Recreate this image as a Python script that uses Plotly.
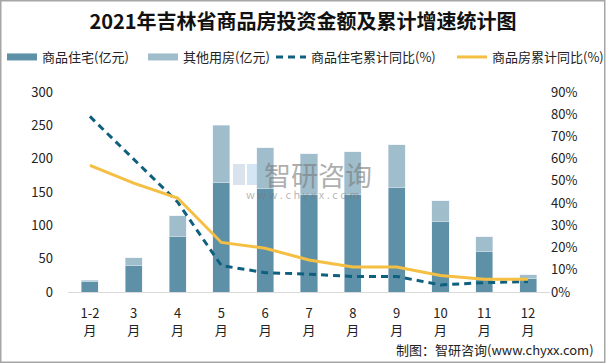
import plotly.graph_objects as go

months = ["1-2<br>月", "3<br>月", "4<br>月", "5<br>月", "6<br>月", "7<br>月",
          "8<br>月", "9<br>月", "10<br>月", "11<br>月", "12<br>月"]
residential = [15.6, 39.2, 82.8, 164.3, 155.0, 147.0, 146.0, 156.8, 105.4, 60.2, 19.6]
other = [2.4, 12.0, 31.6, 85.5, 61.7, 60.7, 64.7, 64.4, 31.6, 22.6, 6.0]
res_growth = [79.0, 59.6, 40.5, 11.9, 8.7, 8.0, 7.0, 7.0, 3.2, 4.2, 4.7]
total_growth = [57.0, 49.0, 42.3, 22.3, 19.7, 14.4, 11.3, 11.2, 7.4, 5.7, 5.7]

C_DARK = "#5e91a8"
C_LIGHT = "#9fbdcb"
C_DASH = "#0f5f7e"
C_YEL = "#f4bf42"
FONT = "Noto Sans CJK SC"

L, R, T, B = 68, 550, 92, 292
W = R - L
H = B - T


def px(x):
    return (x - L) / W


def py(y):
    return (B - y) / H


fig = go.Figure()
fig.add_trace(go.Bar(x=months, y=residential, marker_color=C_DARK, name="商品住宅(亿元)",
                     showlegend=False, width=0.39))
fig.add_trace(go.Bar(x=months, y=other, marker_color=C_LIGHT, name="其他用房(亿元)",
                     showlegend=False, width=0.39))
fig.add_trace(go.Scatter(x=months, y=res_growth, yaxis="y2", mode="lines",
                         line=dict(color=C_DASH, width=3, dash="7px,5px"),
                         name="商品住宅累计同比(%)", showlegend=False))
fig.add_trace(go.Scatter(x=months, y=total_growth, yaxis="y2", mode="lines",
                         line=dict(color=C_YEL, width=3),
                         name="商品房累计同比(%)", showlegend=False))

# legend proxies, each in its own legend for exact placement
legend_items = [("商品住宅(亿元)", C_DARK, "solid", 7, "legend", 2),
                ("其他用房(亿元)", C_LIGHT, "solid", 7, "legend2", 143),
                ("商品住宅累计同比(%)", C_DASH, "7px,5px", 3, "legend3", 271),
                ("商品房累计同比(%)", C_YEL, "solid", 3, "legend4", 452)]
leg_layout = {}
for name, color, dash, w, lg, xpos in legend_items:
    fig.add_trace(go.Scatter(x=[None], y=[None], mode="lines", name=name, legend=lg,
                             line=dict(color=color, width=w, dash=dash)))
    leg_layout[lg] = dict(orientation="h", x=px(xpos), xanchor="left", y=py(57),
                          yanchor="middle", font=dict(size=13, color="#222"),
                          itemwidth=30, bgcolor="rgba(0,0,0,0)")

fig.update_layout(
    width=606, height=363,
    margin=dict(l=L, r=606 - R, t=T, b=363 - B, autoexpand=False),
    barmode="stack",
    bargap=0.61,
    plot_bgcolor="white", paper_bgcolor="white",
    font=dict(family=FONT, size=13, color="#222"),
    title=dict(text="<b>2021年吉林省商品房投资金额及累计增速统计图</b>",
               x=0.5, xanchor="center", y=1 - 22 / 363, yanchor="middle",
               font=dict(size=20, color="#111", family=FONT)),
    xaxis=dict(showgrid=False, showline=True, linecolor="#d9d9d9", linewidth=1,
               ticks="", ticklabelstandoff=9, tickfont=dict(size=13, color="#222")),
    yaxis=dict(range=[0, 300], dtick=50, showgrid=False, zeroline=False, showline=False,
               ticks="", ticklabelstandoff=14, tickfont=dict(size=13, color="#222")),
    yaxis2=dict(range=[0, 90], dtick=10, ticksuffix="%", overlaying="y", side="right",
                showgrid=False, zeroline=False, showline=False,
                tickfont=dict(size=13, color="#222")),
    shapes=[
        dict(type="rect", xref="paper", yref="paper",
             x0=px(0.75), x1=px(604.75), y0=py(362.25), y1=py(0.75),
             line=dict(color="#a6a6a6", width=1.5), fillcolor="rgba(0,0,0,0)", layer="above"),
        # watermark logo
        dict(type="rect", xref="paper", yref="paper",
             x0=px(233), x1=px(245), y0=py(185), y1=py(164),
             line=dict(width=0), fillcolor="rgba(170,190,215,0.45)", layer="above"),
        dict(type="rect", xref="paper", yref="paper",
             x0=px(247), x1=px(258), y0=py(185), y1=py(164),
             line=dict(width=0), fillcolor="rgba(160,200,230,0.45)", layer="above"),
    ],
    annotations=[
        dict(text="智研咨询", xref="paper", yref="paper",
             x=px(318), y=py(174), showarrow=False,
             font=dict(size=27, color="rgba(120,120,120,0.6)", family=FONT)),
        dict(text="w w w . c h y x x . c o m", xref="paper", yref="paper",
             x=px(303), y=py(194), showarrow=False,
             font=dict(size=11, color="rgba(120,120,120,0.55)", family=FONT)),
        dict(text="制图：智研咨询(www.chyxx.com)", xref="paper", yref="paper",
             x=px(596), xanchor="right", y=py(349), yanchor="middle",
             showarrow=False, font=dict(size=13, color="#222", family=FONT)),
    ],
)
fig.update_layout(**leg_layout)

fig.write_html("out.html", config={"displayModeBar": False},
               post_script="document.body.style.margin='0';document.body.style.overflow='hidden';")
